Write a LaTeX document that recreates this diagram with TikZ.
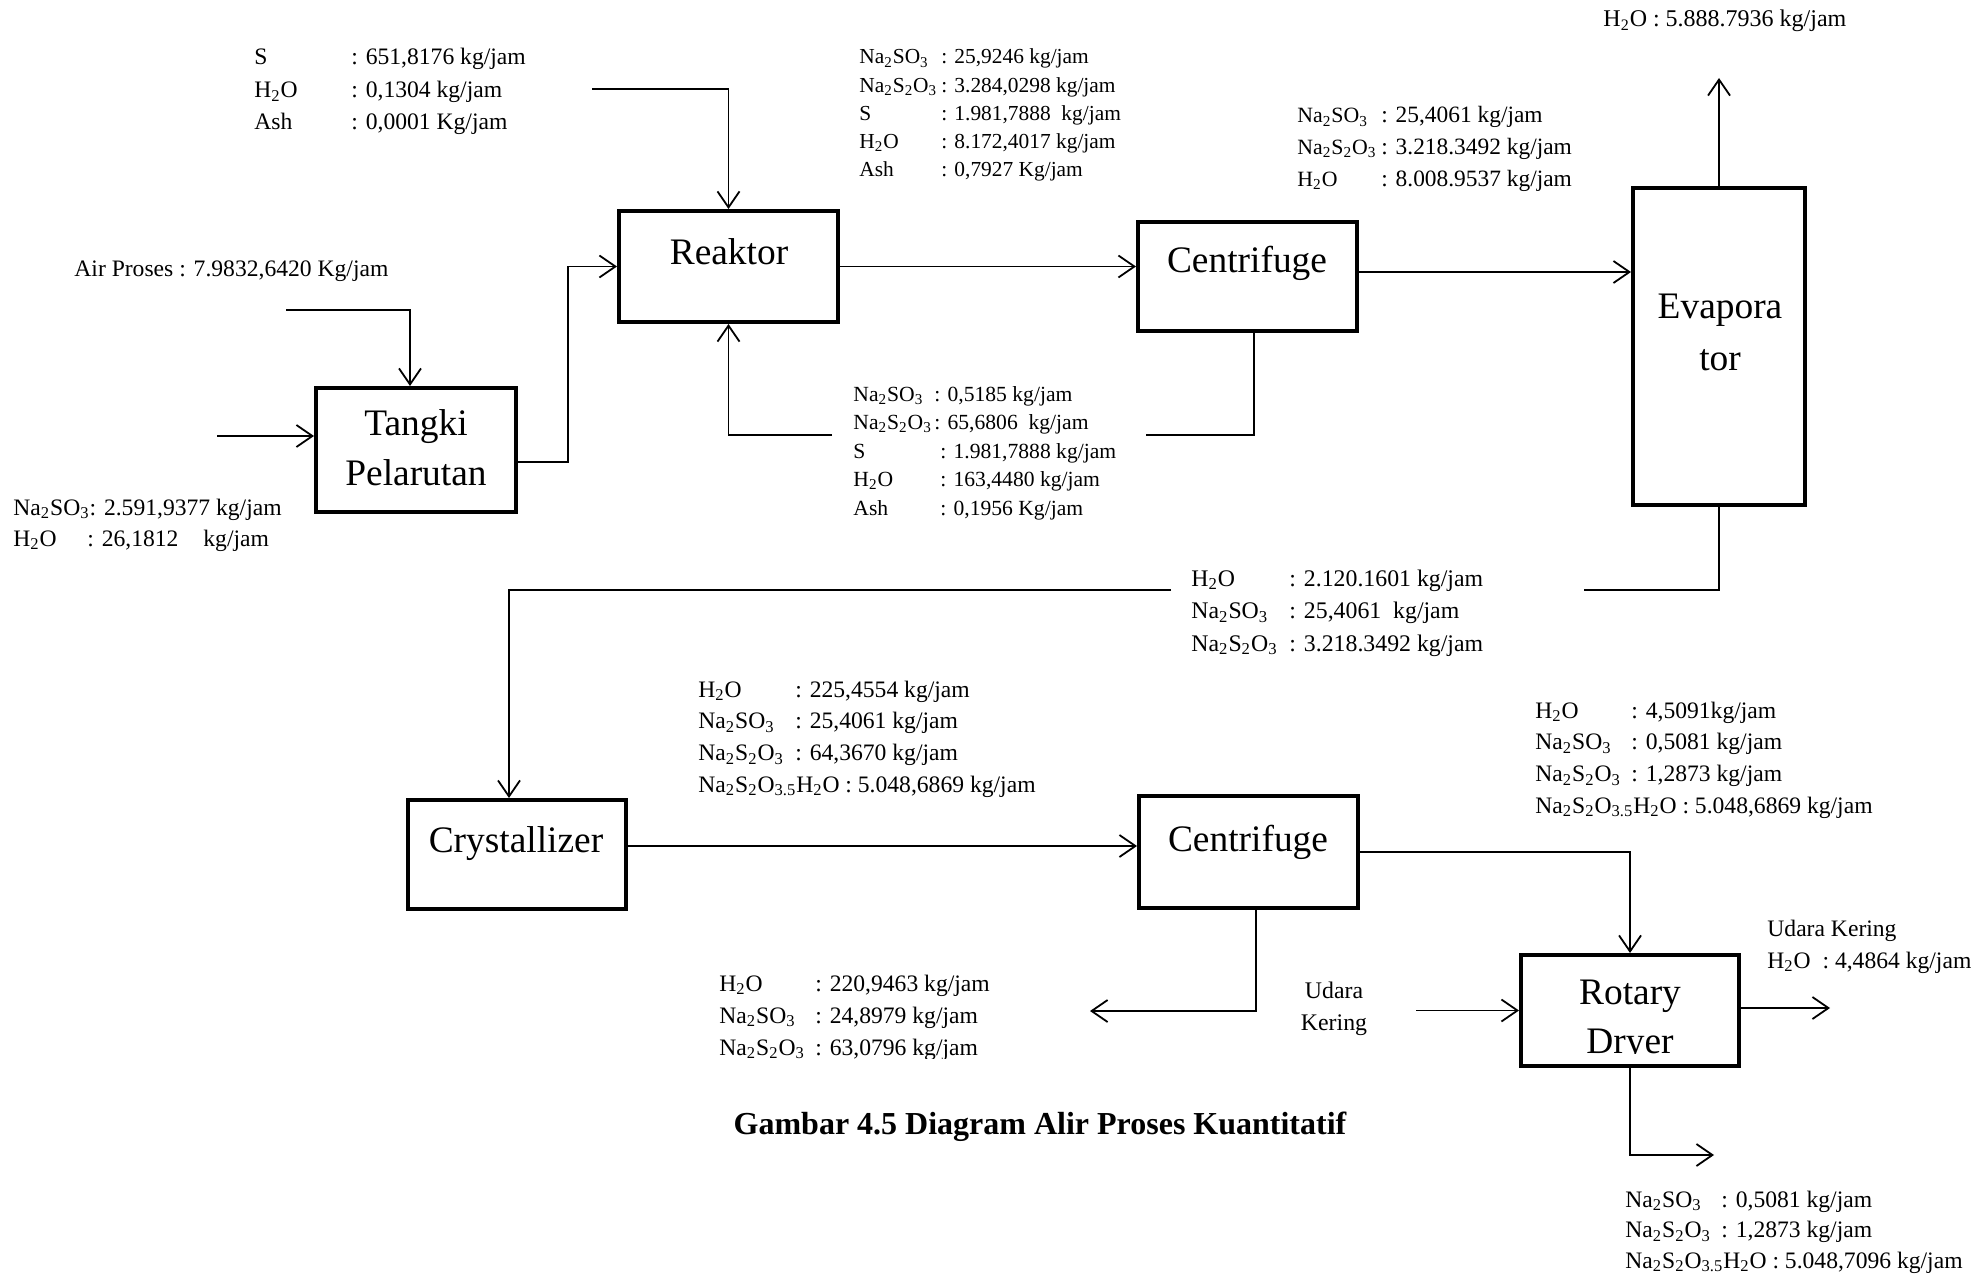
\documentclass[tikz,border=0pt]{standalone}
\usepackage{fontspec}
\setmainfont{Liberation Serif}
\usetikzlibrary{arrows.meta}

% font size helper and stream-table helpers
\newcommand{\fsz}[2]{\fontsize{#1}{#2}\selectfont}
\newcommand{\nm}[2]{\makebox[#1][l]{#2}}
\newcommand{\stk}[1]{\begin{tabular}[t]{@{}l@{}}#1\end{tabular}}
\newcommand{\cstk}[1]{\begin{tabular}[t]{@{}c@{}}#1\end{tabular}}
% chemical formulas
\newcommand{\sulfit}{Na\textsubscript{2}SO\textsubscript{3}}
\newcommand{\tiosulfat}{Na\textsubscript{2}S\textsubscript{2}O\textsubscript{3}}
\newcommand{\water}{H\textsubscript{2}O}
\newcommand{\pentahidrat}{Na\textsubscript{2}S\textsubscript{2}O\textsubscript{3.5}H\textsubscript{2}O}

\begin{document}
\begin{tikzpicture}[x=0.5pt, y=-0.5pt,
  unit/.style 2 args={draw, line width=2pt, rectangle, inner sep=0pt,
                      minimum width=#1, minimum height=#2},
  unitname/.style={anchor=base, inner sep=0pt, font=\fsz{18.7}{25}},
  stream/.style={anchor=base west, inner sep=0pt},
  pipe/.style={line width=0.9pt},
  flow/.style={line width=0.9pt, -{Straight Barb[length=8pt,width=11pt]}}]

\useasboundingbox (0,0) rectangle (1984,1273);

% ---------- process units ----------
\node[unit={100pt}{62pt}]      (tangki)  at (416,450)    {};
\node[unit={109.5pt}{55.5pt}]  (reaktor) at (728.5,266.5) {};
\node[unit={109.5pt}{54.5pt}]  (cent1)   at (1247.5,276.5) {};
\node[unit={86pt}{158.5pt}]    (evap)    at (1719,346.5) {};
\node[unit={109pt}{54.5pt}]    (cryst)   at (517,854.5)  {};
\node[unit={109.5pt}{56pt}]    (cent2)   at (1248.5,852) {};
\node[unit={109pt}{55.5pt}]    (rotary)  at (1630,1010.5) {};

% ---------- unit names ----------
\node[unitname] (tangkiT) at (416,435) {\cstk{Tangki\\Pelarutan}};
\node[unitname] (reaktorT) at (729,264) {Reaktor};
\node[unitname] (cent1T) at (1247,272) {Centrifuge};
\node[unitname, font=\fsz{18.7}{26}] (evapT) at (1720,318) {\cstk{Evapora\\tor}};
\node[unitname] (crystT) at (516,852) {Crystallizer};
\node[unitname] (cent2T) at (1248,851) {Centrifuge};
\begin{scope}
  \clip (1526,960) rectangle (1734,1053);
  \node[unitname, font=\fsz{18.7}{24.5}] (rotaryT) at (1630,1004) {\cstk{Rotary\\Dryer}};
\end{scope}

% ---------- connectors ----------
\coordinate (sIn) at (592,89);
\draw[flow] (sIn) -| (reaktor.north);

\coordinate (airIn) at (286,310);
\draw[flow] (airIn) -| ([xshift=-3pt]tangki.north);

\coordinate (naIn) at (217,436);
\draw[flow] (naIn) -- (naIn -| tangki.west);

\coordinate (tr) at (568,462);
\draw[flow] (tangki.east |- tr) -- (tr) |- (reaktor.west);

\draw[flow] (reaktor.east) -- (reaktor.east -| cent1.west);

\coordinate (ce) at (1357,272);
\draw[flow] (cent1.east |- ce) -- (ce -| evap.west);

\coordinate (evTop) at (1719,78);
\draw[flow] (evap.north) -- (evTop);

\coordinate (rcR) at (1146,435);
\coordinate (rcL) at (832,435);
\draw[pipe] ([xshift=3.25pt]cent1.south) |- (rcR);
\draw[flow] (rcL) -| (reaktor.south);

\coordinate (evR) at (1584,590);
\coordinate (evL) at (1171,590);
\coordinate (crIn) at (509,590);
\draw[pipe] (evap.south) |- (evR);
\draw[flow] (evL) -- (crIn) -- (crIn |- cryst.north);

\coordinate (cc) at (626,846);
\draw[flow] (cryst.east |- cc) -- (cc -| cent2.west);

\draw[flow] (cent2.east) -| (rotary.north);

\coordinate (c2Out) at (1090,1011);
\draw[flow] ([xshift=3.75pt]cent2.south) |- (c2Out);

\coordinate (udIn) at (1416,1010.5);
\draw[flow] (udIn) -- (udIn -| rotary.west);

\coordinate (rdOut) at (1830,1008);
\draw[flow] (rotary.east |- rdOut) -- (rdOut);

\coordinate (prod) at (1714,1155);
\draw[flow] (rotary.south) |- (prod);

% ---------- stream compositions ----------
\node[stream, font=\fsz{11.8}{16.25}] (feedS) at (254,65) {\stk{%
  \nm{48.5pt}{S}: 651,8176 kg/jam\\
  \nm{48.5pt}{\water}: 0,1304 kg/jam\\
  \nm{48.5pt}{Ash}: 0,0001 Kg/jam}};

\node[stream, font=\fsz{11.8}{16}] (feedAir) at (74,276)
  {Air Proses : 7.9832,6420 Kg/jam};

\node[stream, font=\fsz{11.8}{15.5}] (feedNa) at (13,515) {\stk{%
  \sulfit: 2.591,9377 kg/jam\\
  \nm{37pt}{\water}: 26,1812\hspace{9.5pt} kg/jam}};

\node[stream, font=\fsz{10.7}{14.1}] (reakOut) at (859,64) {\stk{%
  \nm{41pt}{\sulfit}: 25,9246 kg/jam\\
  \nm{41pt}{\tiosulfat}: 3.284,0298 kg/jam\\
  \nm{41pt}{S}: 1.981,7888\ \ kg/jam\\
  \nm{41pt}{\water}: 8.172,4017 kg/jam\\
  \nm{41pt}{Ash}: 0,7927 Kg/jam}};

\node[stream, font=\fsz{11.7}{15.8}] (cent1Out) at (1297,123) {\stk{%
  \nm{42pt}{\fsz{10.9}{15.8}\sulfit}: 25,4061 kg/jam\\
  \nm{42pt}{\fsz{10.9}{15.8}\tiosulfat}: 3.218.3492 kg/jam\\
  \nm{42pt}{\fsz{10.9}{15.8}\water}: 8.008.9537 kg/jam}};

\node[stream, font=\fsz{10.8}{14.25}] (recycle) at (853,401) {\stk{%
  \nm{40.5pt}{\sulfit}: 0,5185 kg/jam\\
  \nm{40.5pt}{\tiosulfat}: 65,6806\ \ kg/jam\\
  \nm{43.5pt}{S}: 1.981,7888 kg/jam\\
  \nm{43.5pt}{\water}: 163,4480 kg/jam\\
  \nm{43.5pt}{Ash}: 0,1956 Kg/jam}};

\node[stream, font=\fsz{12}{16}] (vapour) at (1603,27)
  {\water{} : 5.888.7936 kg/jam};

\node[stream, font=\fsz{11.9}{16.25}] (evapOut) at (1191,586) {\stk{%
  \nm{49pt}{\water}: 2.120.1601 kg/jam\\
  \nm{49pt}{\sulfit}: 25,4061\ \ kg/jam\\
  \nm{49pt}{\tiosulfat}: 3.218.3492 kg/jam}};

\node[stream, font=\fsz{11.8}{15.85}] (crystOut) at (698,697) {\stk{%
  \nm{48.5pt}{\water}: 225,4554 kg/jam\\
  \nm{48.5pt}{\sulfit}: 25,4061 kg/jam\\
  \nm{48.5pt}{\tiosulfat}: 64,3670 kg/jam\\
  \pentahidrat{} : 5.048,6869 kg/jam}};

\begin{scope}
  \clip (700,960) rectangle (1000,1058);
  \node[stream, font=\fsz{11.8}{16}] (motherLiq) at (719,991) {\stk{%
    \nm{48pt}{\water}: 220,9463 kg/jam\\
    \nm{48pt}{\sulfit}: 24,8979 kg/jam\\
    \nm{48pt}{\tiosulfat}: 63,0796 kg/jam}};
\end{scope}

\node[anchor=base, inner sep=0pt, font=\fsz{11.9}{16}] (udaraIn) at (1334,998)
  {\cstk{Udara\\Kering}};

\node[stream, font=\fsz{11.8}{15.85}] (cakeOut) at (1535,718) {\stk{%
  \nm{48pt}{\water}: 4,5091kg/jam\\
  \nm{48pt}{\sulfit}: 0,5081 kg/jam\\
  \nm{48pt}{\tiosulfat}: 1,2873 kg/jam\\
  \pentahidrat{} : 5.048,6869 kg/jam}};

\node[stream, font=\fsz{11.8}{16}] (udaraOut) at (1767,936) {\stk{%
  Udara Kering\\
  \water\ \ : 4,4864 kg/jam}};

\node[stream, font=\fsz{11.8}{15.25}] (product) at (1625,1207) {\stk{%
  \nm{48pt}{\sulfit}: 0,5081 kg/jam\\
  \nm{48pt}{\tiosulfat}: 1,2873 kg/jam\\
  \pentahidrat{} : 5.048,7096 kg/jam}};

% ---------- caption ----------
\node[anchor=base, inner sep=0pt, font=\fsz{16}{19}\bfseries] (caption) at (1040,1134)
  {Gambar 4.5 Diagram Alir Proses Kuantitatif};

\end{tikzpicture}
\end{document}
